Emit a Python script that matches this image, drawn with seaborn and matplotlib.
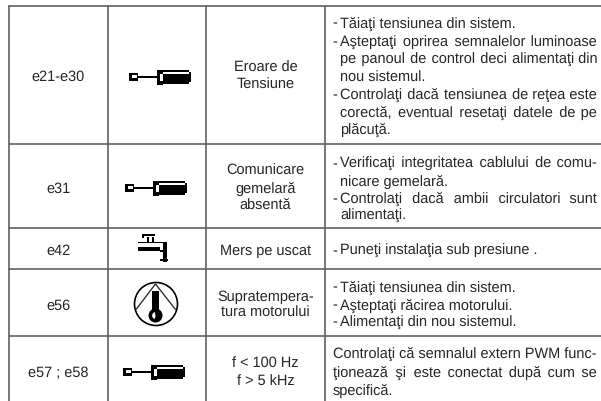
import matplotlib
matplotlib.use("Agg")
import matplotlib.pyplot as plt
from matplotlib.patches import Rectangle, Circle, Wedge
import seaborn as sns

# table grid, in pixels of the page
col_edges = [9, 108, 206, 325]
row_edges = [7, 145, 229, 270, 337]
page_w = 601
page_h = 402

codes = ["e21-e30", "e31", "e42", "e56", "e57 ; e58"]
code_base = [80.7, 192.7, 255, 310, 376.7]

faults = [["Eroare de", "Tensiune"],
          ["Comunicare", "gemelară", "absentă"],
          ["Mers pe uscat"],
          ["Supratempera-", "tura motorului"],
          ["f < 100 Hz", "f > 5 kHz"]]
fault_base = [[71.7, 89.3], [175, 193, 209.3], [255], [300.7, 317.3], [367.7, 386]]

# text, baseline, justified or not
remedies = [
    ("- Tăiaţi tensiunea din sistem.", 27.7, False),
    ("- Aşteptaţi oprirea semnalelor luminoase", 46.7, True),
    ("pe panoul de control deci alimentaţi din", 63.9, True),
    ("nou sistemul.", 81.7, False),
    ("- Controlaţi dacă tensiunea de reţea este", 99.3, True),
    ("corectă, eventual resetaţi datele de pe", 116.7, True),
    ("plăcuţă.", 134, False),
    ("- Verificaţi integritatea cablului de comu-", 168.3, True),
    ("nicare gemelară.", 186, False),
    ("- Controlaţi dacă ambii circulatori sunt", 203, True),
    ("alimentaţi.", 220, False),
    ("- Puneţi instalaţia sub presiune .", 255, False),
    ("- Tăiaţi tensiunea din sistem.", 291.7, False),
    ("- Aşteptaţi răcirea motorului.", 309.5, False),
    ("- Alimentaţi din nou sistemul.", 326.7, False),
    ("Controlaţi că semnalul extern PWM func-", 358.3, True),
    ("ţionează şi este conectat după cum se", 376.7, True),
    ("specifică.", 395, False),
]

screwdriver_at = [(129.3, 78), (125.3, 189), (123.3, 373)]

sns.set_theme(style="white")
plt.rcParams["font.family"] = ["Liberation Sans", "DejaVu Sans"]
plt.rcParams["text.hinting"] = "no_hinting"
text_color = "#262626"
rule_color = "#606060"
font_size = 10.45

fig = plt.figure(figsize=(6.01, 4.02), dpi=100)
ax = fig.add_axes([0, 0, 1, 1])

# rules (estimator=None, a vertical rule would get averaged otherwise)
for y in row_edges:
    sns.lineplot(x=[col_edges[0], page_w], y=[y, y], color=rule_color, lw=1.2,
                 ax=ax, sort=False, estimator=None)
for x in col_edges:
    sns.lineplot(x=[x, x], y=[row_edges[0], page_h], color=rule_color, lw=1.2,
                 ax=ax, sort=False, estimator=None)
ax.set_xlim(0, page_w)
ax.set_ylim(page_h, 0)
ax.axis("off")


def rect(x, y, w, h, color="black"):
    ax.add_patch(Rectangle((x, y), w, h, fc=color, ec="none", zorder=3))


def screwdriver(x0, yc):
    rect(x0, yc - 4.5, 9, 8.7)
    rect(x0 + 2.4, yc - 2, 5.3, 3.3, "white")
    rect(x0 + 9, yc - 1.3, 18.4, 2.6)
    rect(x0 + 27.4, yc - 7.3, 6.6, 15)
    rect(x0 + 30.6, yc - 3, 3.4, 6.6, "white")
    rect(x0 + 34, yc - 7.3, 26, 14.3)
    rect(x0 + 60, yc - 5.5, 1.5, 10.5)
    rect(x0 + 33.5, yc - 5.3, 26, 2.5, "white")


def faucet():
    rect(141.7, 235, 13.5, 2)
    rect(141.7, 235, 1.8, 3.5)
    rect(146.7, 238, 1.8, 4.5)
    rect(151.7, 238, 1.8, 4.5)
    rect(138.3, 242.5, 27, 1.8)
    rect(138.3, 248.3, 21.7, 3.4)
    rect(160, 250.5, 3, 2.5)
    rect(163, 242.5, 3.7, 20.5)
    rect(160, 259.5, 7.5, 2.2)


def thermometer():
    ax.add_patch(Circle((156, 305), 21.5, fc="none", ec="black", lw=1.2, zorder=3))
    ax.plot([155.5, 136], [285, 310.5], color="#333333", lw=1.0, zorder=3)
    ax.plot([155.5, 175.5], [285, 310.5], color="#333333", lw=1.0, zorder=3)
    rect(152.3, 292, 6.2, 22)
    ax.add_patch(Circle((155.5, 316.5), 7, fc="black", ec="none", zorder=4))
    ax.add_patch(Wedge((155.5, 316.5), 3.4, 100, 260, fc="white", ec="none", zorder=5))


for x0, yc in screwdriver_at:
    screwdriver(x0, yc)
faucet()
thermometer()

# codes and fault names, centred in their columns
for code, base in zip(codes, code_base):
    ax.text(58, base, code, ha="center", va="baseline", fontsize=font_size, color=text_color)
for lines, bases in zip(faults, fault_base):
    for line, base in zip(lines, bases):
        ax.text(265.5, base, line, ha="center", va="baseline", fontsize=font_size, color=text_color)

# remedies: justified lines get hair spaces between the words
renderer = fig.canvas.get_renderer()
right_edge = 597
hair = "\u200a"


def width_of(s):
    t = ax.text(0, 0, s, fontsize=font_size)
    w = t.get_window_extent(renderer).width
    t.remove()
    return w


hair_w = (width_of("x" + hair * 20 + "x") - width_of("xx")) / 20

for line, base, justified in remedies:
    dash = line.startswith("- ")
    body = line[2:] if dash else line
    x = 340 if dash or line[:2] in ("pe", "no", "co", "pl", "ni", "al") else 333
    if dash:
        ax.text(332.3, base, "-", va="baseline", fontsize=font_size, color=text_color)
    if justified:
        words = body.split(" ")
        gaps = len(words) - 1
        extra = right_edge - x - width_of(body)
        n = max(int(round(extra / hair_w)), 0)
        out = words[0]
        for i, word in enumerate(words[1:]):
            count = n // gaps + (1 if i < n % gaps else 0)
            out += " " + hair * count + word
        body = out
    ax.text(x, base, body, va="baseline", fontsize=font_size, color=text_color)

fig.savefig("out.png", dpi=100)
